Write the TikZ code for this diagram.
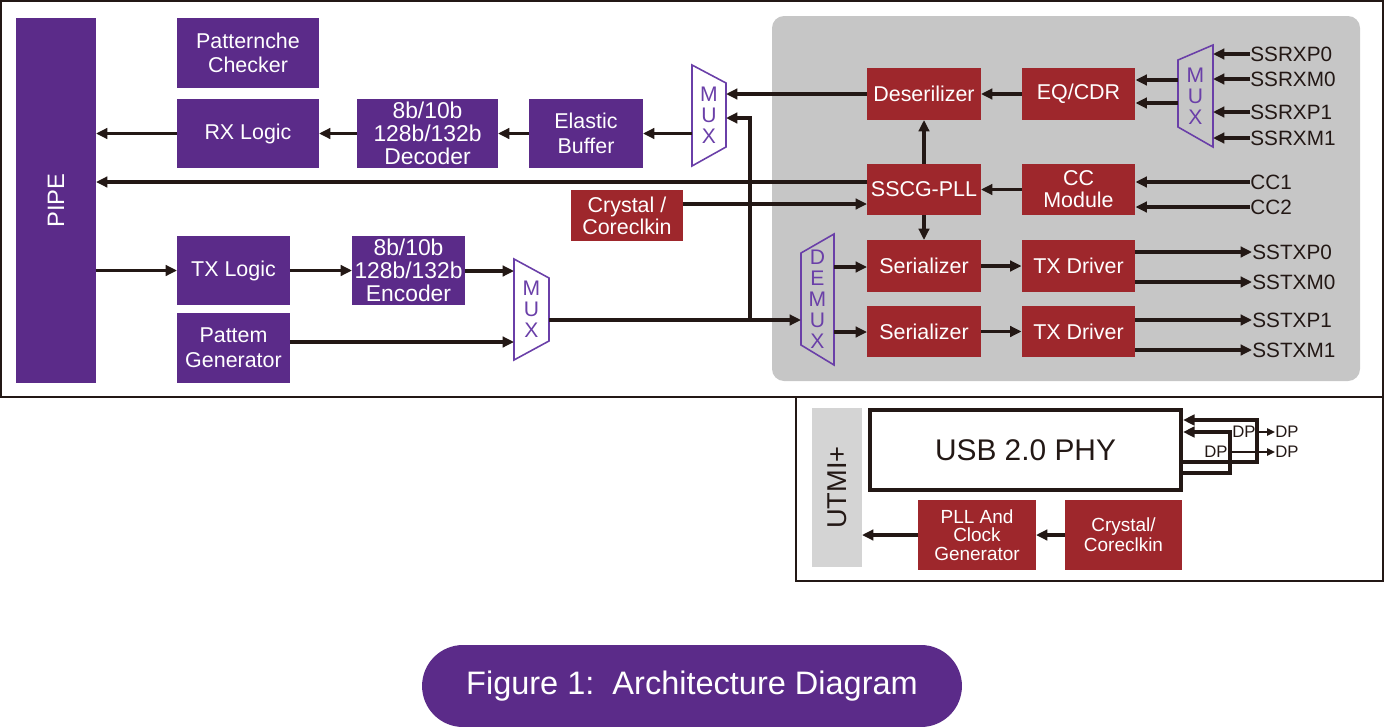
\documentclass[tikz,border=0pt]{standalone}
\usepackage{fontspec}
\setmainfont{Liberation Sans}
\usepackage{tikz}
\usetikzlibrary{arrows.meta,calc}
\definecolor{ArchPurple}{HTML}{5B2B89}
\definecolor{ArchMux}{HTML}{6A3FA8}
\definecolor{ArchRed}{HTML}{9E272C}
\definecolor{ArchPanel}{HTML}{C6C6C6}
\definecolor{ArchUtmi}{HTML}{D4D4D4}
\definecolor{ArchDark}{HTML}{231815}

\begin{document}
\begin{tikzpicture}[x=0.02cm,y=-0.02cm,
  pbox/.style={fill=ArchPurple,text=white,align=center,inner sep=0pt,outer sep=0pt,font=\fontsize{12.2}{14}\selectfont},
  rbox/.style={fill=ArchRed,text=white,align=center,inner sep=0pt,outer sep=0pt,minimum width=2.28cm,minimum height=1.04cm,font=\fontsize{12.2}{12.5}\selectfont},
  muxbox/.style={inner sep=0pt,outer sep=0pt,align=center,text=ArchMux,font=\fontsize{12}{12}\selectfont},
  muxedge/.style={draw=ArchMux,line width=0.9pt,line join=miter},
  sig/.style={draw=ArchDark,line width=1.9pt,-{Triangle[length=6.5pt,width=6pt]}},
  wire/.style={draw=ArchDark,line width=1.9pt},
  pin/.style={anchor=west,inner sep=0pt,text=ArchDark,font=\fontsize{11.8}{11.8}\selectfont}]
\useasboundingbox (0,0) rectangle (1384,727);
% frames
\draw[ArchDark,line width=0.6pt] (1,1) rectangle (1383,397);
\draw[ArchDark,line width=0.6pt] (796,397) rectangle (1383,581);
\fill[ArchPanel,rounded corners=0.24cm] (772,16) rectangle (1360,381);

% left side (purple)
\node[pbox,minimum width=1.6cm,minimum height=7.3cm,
  label={[rotate=90,text=white,font=\fontsize{13.5}{13.5}\selectfont]center:PIPE}] (pipe) at (56,200.5) {};
\node[pbox,minimum width=2.84cm,minimum height=1.4cm] (pchk) at (248,53) {Patternche\\Checker};
\node[pbox,minimum width=2.84cm,minimum height=1.38cm] (rxlog) at (248,133.5) {RX Logic};
\node[pbox,minimum width=2.82cm,minimum height=1.38cm,font=\fontsize{13}{13}\selectfont] (dec) at (427.5,133.5) {8b/10b\\128b/132b\\Decoder};
\node[pbox,minimum width=2.28cm,minimum height=1.38cm] (ebuf) at (586,133.5) {Elastic\\Buffer};
\node[rbox,minimum width=2.24cm,minimum height=1.02cm] (crys1) at (627,215.5) {Crystal /\\Coreclkin};
\node[pbox,minimum width=2.26cm,minimum height=1.38cm] (txlog) at (233.5,270.5) {TX Logic};
\node[pbox,minimum width=2.26cm,minimum height=1.4cm] (pgen) at (233.5,348) {Pattem\\Generator};
\node[pbox,minimum width=2.26cm,minimum height=1.38cm,font=\fontsize{13}{13}\selectfont] (enc) at (408.5,270.5) {8b/10b\\128b/132b\\Encoder};

% muxes
\node[muxbox,minimum width=0.68cm,minimum height=2.02cm] (mux1) at (709,115.5) {M\\U\\X};
\draw[muxedge] (mux1.north west) -- ($(mux1.north east)+(0,18)$) -- ($(mux1.south east)+(0,-19)$) -- (mux1.south west) -- cycle;
\node[muxbox,minimum width=0.7cm,minimum height=2.02cm] (mux2) at (531.5,309.5) {M\\U\\X};
\draw[muxedge] (mux2.north west) -- ($(mux2.north east)+(0,19)$) -- ($(mux2.south east)+(0,-19)$) -- (mux2.south west) -- cycle;
\node[muxbox,minimum width=0.7cm,minimum height=2.04cm] (mux3) at (1195.5,96) {M\\U\\X};
\draw[muxedge] ($(mux3.north west)+(0,15)$) -- (mux3.north east) -- (mux3.south east) -- ($(mux3.south west)+(0,-20)$) -- cycle;
\node[muxbox,minimum width=0.66cm,minimum height=2.62cm] (demux) at (817.5,299.5) {D\\E\\M\\U\\X};
\draw[muxedge] ($(demux.north west)+(0,19)$) -- (demux.north east) -- (demux.south east) -- ($(demux.south west)+(0,-20)$) -- cycle;

% phy blocks (red)
\node[rbox] (des) at (924,94) {Deserilizer};
\node[rbox] (eqcdr) at (1078.5,94) {EQ/CDR};
\node[rbox] (sscg) at (924,189.5) {SSCG-PLL};
\node[rbox] (ccmod) at (1078.5,189.5) {CC\\Module};
\node[rbox] (ser1) at (924,266) {Serializer};
\node[rbox] (drv1) at (1078.5,266) {TX Driver};
\node[rbox] (ser2) at (924,331.5) {Serializer};
\node[rbox] (drv2) at (1078.5,331.5) {TX Driver};

% pins
\node[pin] (ssrxp0) at (1250,54) {SSRXP0};
\node[pin] (ssrxm0) at (1250,79) {SSRXM0};
\node[pin] (ssrxp1) at (1250,112) {SSRXP1};
\node[pin] (ssrxm1) at (1250,138) {SSRXM1};
\node[pin] (cc1) at (1250,182) {CC1};
\node[pin] (cc2) at (1250,207) {CC2};
\node[pin] (sstxp0) at (1252,252) {SSTXP0};
\node[pin] (sstxm0) at (1252,282) {SSTXM0};
\node[pin] (sstxp1) at (1252,320) {SSTXP1};
\node[pin] (sstxm1) at (1252,350) {SSTXM1};

% rx path
\draw[sig] (rxlog.west) -- (rxlog.west -| pipe.east);
\draw[sig] (dec.west) -- (dec.west -| rxlog.east);
\draw[sig] (ebuf.west) -- (ebuf.west -| dec.east);
\draw[sig] (ebuf.east -| mux1.west) -- (ebuf.east);
\draw[sig] (des.west) -- (des.west -| mux1.east);
\draw[sig] (eqcdr.west) -- (eqcdr.west -| des.east);
\draw[sig] (mux3.west |- 0,80) -- (eqcdr.east |- 0,80);
\draw[sig] (mux3.west |- 0,103) -- (eqcdr.east |- 0,103);
\foreach \p in {ssrxp0,ssrxm0,ssrxp1,ssrxm1}
  \draw[sig] (\p.west) -- (\p.west -| mux3.east);

% clocking
\draw[sig] (cc1.west) -- (cc1.west -| ccmod.east);
\draw[sig] (cc2.west) -- (cc2.west -| ccmod.east);
\draw[sig] (ccmod.west) -- (ccmod.west -| sscg.east);
\draw[sig] (sscg.north) -- (des.south);
\draw[sig] (sscg.south) -- (ser1.north);
\draw[sig] (sscg.west |- 0,182) -- (pipe.east |- 0,182);
\draw[sig] (crys1.east |- 0,204) -- (sscg.west |- 0,204);

% tx path
\draw[sig] (pipe.east |- txlog.west) -- (txlog.west);
\draw[sig] (txlog.east) -- (enc.west);
\draw[sig] (enc.east |- 0,271) -- (mux2.west |- 0,271);
\draw[sig] (pgen.east |- 0,342) -- (mux2.west |- 0,342);
\coordinate (jn) at (750,320);
\draw[sig] (mux2.east |- jn) -- (demux.west |- jn);
\draw[sig] (jn) |- (mux1.east |- 0,118);
\draw[sig] (demux.east |- 0,267) -- (ser1.west |- 0,267);
\draw[sig] (demux.east |- 0,332) -- (ser2.west |- 0,332);
\draw[sig] (ser1.east) -- (drv1.west);
\draw[sig] (ser2.east) -- (drv2.west);
\foreach \p/\d in {sstxp0/drv1,sstxm0/drv1,sstxp1/drv2,sstxm1/drv2}
  \draw[sig] (\d.east |- \p.west) -- (\p.west);

% usb 2.0 part
\node[fill=ArchUtmi,minimum width=1cm,minimum height=3.18cm,inner sep=0pt,outer sep=0pt,
  label={[rotate=90,text=ArchDark,font=\fontsize{15.5}{15.5}\selectfont]center:UTMI+}] (utmi) at (837,487.5) {};
\node[draw=ArchDark,line width=2.4pt,fill=white,minimum width=6.22cm,minimum height=1.6cm,inner sep=0pt,
  text=ArchDark,font=\fontsize{17}{17}\selectfont] (usbphy) at (1025.5,450) {USB 2.0 PHY};
\node[rbox,minimum width=2.36cm,minimum height=1.4cm,font=\fontsize{10.8}{10.5}\selectfont] (pll) at (977,535) {PLL And\\Clock\\Generator};
\node[rbox,minimum width=2.34cm,minimum height=1.4cm,font=\fontsize{10.8}{11.3}\selectfont] (crys2) at (1123.5,535) {Crystal/\\Coreclkin};
\draw[sig] (crys2.west) -- (pll.east);
\draw[sig] (pll.west) -- (pll.west -| utmi.east);

\coordinate (dpa) at (1257,420);
\coordinate (dpb) at (1230,432);
\draw[sig] (usbphy.east |- 0,462) -| (dpa) -- (usbphy.east |- dpa);
\draw[sig] (usbphy.east |- 0,473) -| (dpb) -- (usbphy.east |- dpb);
\node[pin,font=\fontsize{9.5}{9.5}\selectfont] (dpo1) at (1275,432) {DP};
\node[pin,font=\fontsize{9.5}{9.5}\selectfont] (dpo2) at (1275,452) {DP};
\node[inner sep=0pt,text=ArchDark,font=\fontsize{9.5}{9.5}\selectfont] (dpi1) at (1244,432) {DP};
\node[inner sep=0pt,text=ArchDark,font=\fontsize{9.5}{9.5}\selectfont] (dpi2) at (1216,452) {DP};
\draw[sig,-{Triangle[length=4.5pt,width=4pt]},line width=1.3pt] (dpa |- dpo1.west) -- (dpo1.west);
\draw[sig,-{Triangle[length=4.5pt,width=4pt]},line width=1.3pt] (dpb |- dpo2.west) -- (dpo2.west);

% caption
\node[fill=ArchPurple,text=white,rounded corners=0.82cm,minimum width=10.8cm,minimum height=1.64cm,
  font=\fontsize{18.5}{18.5}\selectfont] (cap) at (692,686) {Figure 1:\ \ Architecture Diagram};
\end{tikzpicture}
\end{document}
